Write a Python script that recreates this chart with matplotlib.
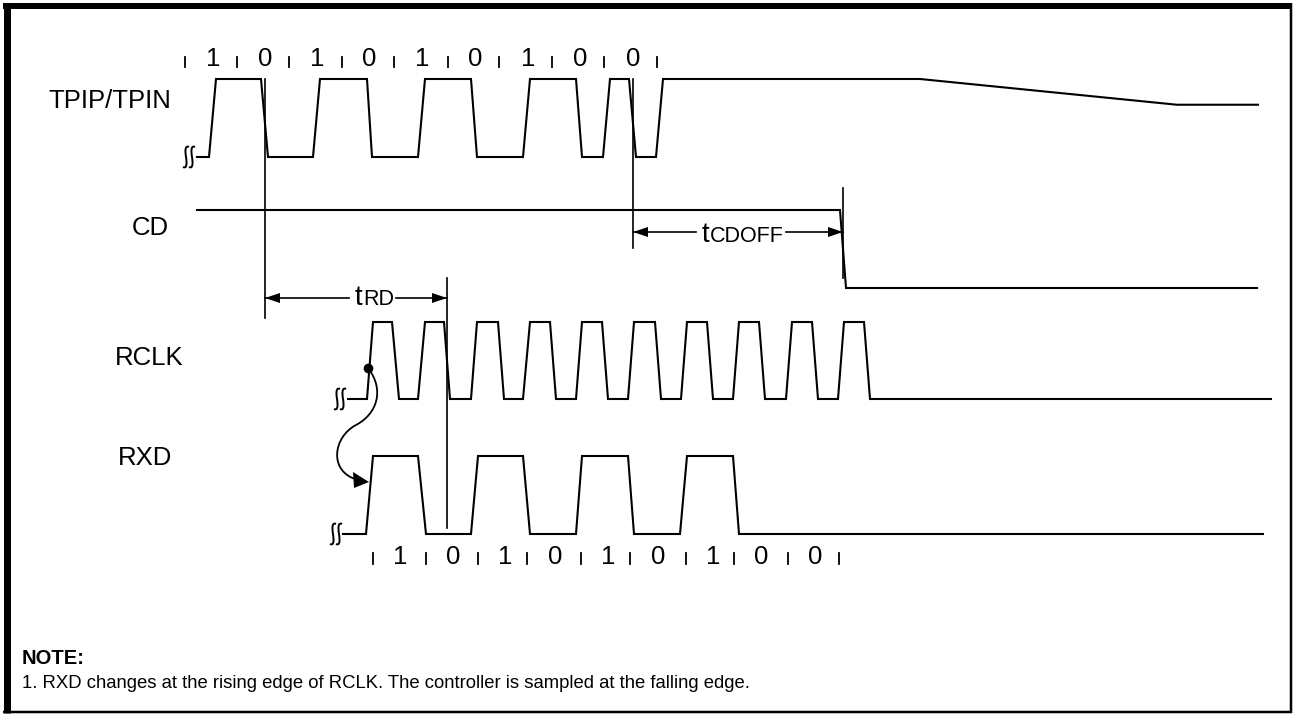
import matplotlib
matplotlib.use('Agg')
import matplotlib.pyplot as plt
from matplotlib.path import Path
from matplotlib.patches import PathPatch, Polygon

plt.rcParams['font.family'] = ['Liberation Sans', 'DejaVu Sans']

# Waveforms: x positions (pixels along time axis) and logic level (0 low, 1 high)
tpip_x = [197, 209, 216, 261, 268, 313, 320, 367, 372, 418, 425, 471, 477, 523, 530,
          576, 582, 603, 610, 629, 636, 656, 663, 920, 1177, 1258]
tpip_v = [0, 0, 1, 1, 0, 0, 1, 1, 0, 0, 1, 1, 0, 0, 1,
          1, 0, 0, 1, 1, 0, 0, 1, 1, 0.67, 0.67]

cd_x = [197, 840, 846, 1257]
cd_v = [1, 1, 0, 0]

rclk_x = [348, 367, 373, 392, 399, 418, 425, 444, 450, 471, 477, 498, 504, 523, 530,
          550, 556, 576, 582, 602, 608, 628, 634, 655, 661, 681, 687, 707, 713, 733,
          739, 759, 765, 786, 792, 812, 818, 838, 844, 864, 870, 1271]
rclk_v = [0, 0, 1, 1, 0, 0, 1, 1, 0, 0, 1, 1, 0, 0, 1,
          1, 0, 0, 1, 1, 0, 0, 1, 1, 0, 0, 1, 1, 0, 0,
          1, 1, 0, 0, 1, 1, 0, 0, 1, 1, 0, 0]

rxd_x = [343, 366, 373, 418, 426, 471, 478, 523, 530, 576, 582, 628, 634, 680, 687,
         733, 739, 1263]
rxd_v = [0, 0, 1, 1, 0, 0, 1, 1, 0, 0, 1, 1, 0, 0, 1,
         1, 0, 0]

# bit labels above TPIP/TPIN and below RXD
top_bits = ['1', '0', '1', '0', '1', '0', '1', '0', '0']
top_bit_x = [213, 265, 317, 369, 422, 475, 528, 580, 633]
top_tick_x = [185, 237, 289, 342, 394, 448, 499, 552, 604, 657]
bot_bits = ['1', '0', '1', '0', '1', '0', '1', '0', '0']
bot_bit_x = [400, 453, 505, 555, 608, 658, 713, 761, 815]
bot_tick_x = [373, 426, 478, 527, 581, 630, 686, 734, 788, 839]

# (name, y of high level, y of low level, label x, label y, label align)
signals = [
    ('TPIP/TPIN', 79, 157, 48, 101, 'left'),
    ('CD', 210, 288, 150, 228, 'center'),
    ('RCLK', 322, 399, 149, 358, 'center'),
    ('RXD', 456, 534, 145, 458, 'center'),
]

LW = 1.5
fig = plt.figure(figsize=(12.93, 7.14), dpi=100)
ax = fig.add_axes([0, 0, 1, 1])
ax.set_xlim(0, 1293)
ax.set_ylim(714, 0)
ax.axis('off')


def level_y(v, hi, lo):
    return [lo - (lo - hi) * a for a in v]


def arrowhead(x, y, direction, length=15, half=5):
    # filled triangle, tip at (x, y)
    ax.add_patch(Polygon([(x, y), (x - direction * length, y - half),
                          (x - direction * length, y + half)],
                         closed=True, color='black', lw=0))


def break_mark(x, y):
    # little double-S "break" symbol at the start of a trace
    for dx in (-3, 3):
        cx = x + dx
        verts = [(cx + 3, y - 10), (cx - 1, y - 12), (cx - 1, y - 6), (cx, y),
                 (cx + 1, y + 6), (cx + 1, y + 12), (cx - 3, y + 10)]
        codes = [Path.MOVETO] + [Path.CURVE4] * 6
        ax.add_patch(PathPatch(Path(verts, codes), fill=False, lw=1.4, color='black'))


waves = [(tpip_x, tpip_v), (cd_x, cd_v), (rclk_x, rclk_v), (rxd_x, rxd_v)]
for (name, hi, lo, lx, ly, ha), (xs, vs) in zip(signals, waves):
    ax.plot(xs, level_y(vs, hi, lo), color='black', lw=LW, solid_joinstyle='miter')
    ax.text(lx, ly, name, fontsize=18.5, ha=ha, va='center')

break_mark(189, 157)
break_mark(340, 399)
break_mark(336, 534)

# bit numbers
for b, x in zip(top_bits, top_bit_x):
    ax.text(x, 59, b, fontsize=18.5, ha='center', va='center')
for x in top_tick_x:
    ax.plot([x, x], [57, 67], color='black', lw=1.3)
for b, x in zip(bot_bits, bot_bit_x):
    ax.text(x, 557, b, fontsize=18.5, ha='center', va='center')
for x in bot_tick_x:
    ax.plot([x, x], [553, 564], color='black', lw=1.3)

# reference lines
ax.plot([265, 265], [79, 318], color='black', lw=1.2)
ax.plot([633, 633], [79, 248], color='black', lw=1.2)
ax.plot([447, 447], [278, 528], color='black', lw=1.2)
ax.plot([843, 843], [188, 278], color='black', lw=1.2)

# tRD
ax.plot([265, 349], [298, 298], color='black', lw=1.2)
ax.plot([396, 447], [298, 298], color='black', lw=1.2)
arrowhead(265, 298, -1)
arrowhead(447, 298, 1)
ax.text(362, 305, 't', fontsize=20, ha='right', va='baseline')
ax.text(363, 305, 'RD', fontsize=15.5, ha='left', va='baseline')

# tCDOFF
ax.plot([633, 696], [232, 232], color='black', lw=1.2)
ax.plot([786, 843], [232, 232], color='black', lw=1.2)
arrowhead(633, 232, -1)
arrowhead(843, 232, 1)
ax.text(709, 242, 't', fontsize=20, ha='right', va='baseline')
ax.text(710, 242, 'CDOFF', fontsize=15.5, ha='left', va='baseline')

# RCLK -> RXD curved arrow
ax.plot([368], [368], 'o', color='black', ms=6)
verts = [(368, 368), (385, 390), (377, 414), (356, 425),
         (333, 437), (328, 472), (358, 480)]
codes = [Path.MOVETO] + [Path.CURVE4] * 6
ax.add_patch(PathPatch(Path(verts, codes), fill=False, lw=1.3, color='black'))
ax.add_patch(Polygon([(369, 482), (353, 472), (354, 488)], closed=True, color='black', lw=0))

# note
ax.text(22, 658, 'NOTE:', fontsize=14.5, fontweight='bold', ha='left', va='center')
ax.text(22, 683, '1. RXD changes at the rising edge of RCLK. The controller is sampled at the falling edge.',
        fontsize=13.3, ha='left', va='center')

# frame: heavy left/top, thin right/bottom
ax.plot([6.5, 6.5], [3, 713], color='black', lw=7 * 0.72, solid_capstyle='butt')
ax.plot([3, 1292], [6, 6], color='black', lw=6 * 0.72, solid_capstyle='butt')
ax.plot([1291, 1291], [3, 713], color='black', lw=2.5 * 0.72, solid_capstyle='butt')
ax.plot([3, 1292], [712, 712], color='black', lw=2.5 * 0.72, solid_capstyle='butt')

fig.savefig('out.png', dpi=100)
